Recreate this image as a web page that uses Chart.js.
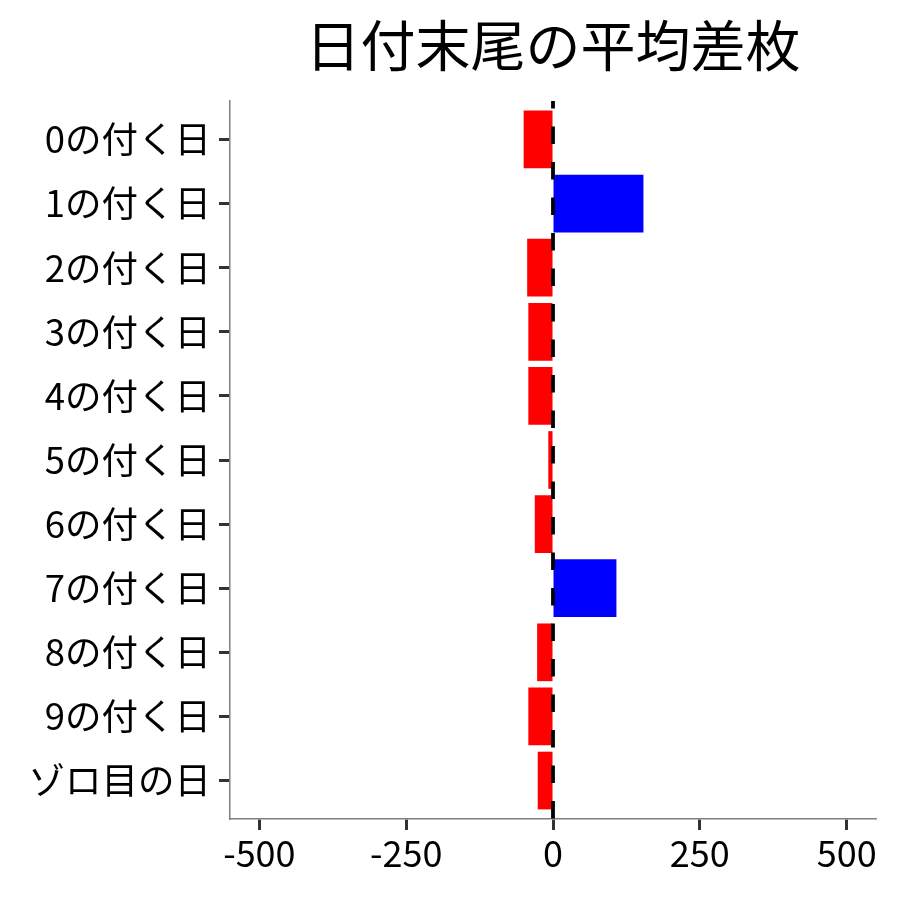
<!DOCTYPE html>
<html>
<head>
<meta charset="utf-8">
<script src="https://cdn.jsdelivr.net/npm/chart.js@4.4.0/dist/chart.umd.min.js"></script>
<style>
  html, body { margin: 0; padding: 0; background: #fff; }
  #wrap { width: 900px; height: 900px; }
</style>
</head>
<body>
<div id="wrap"><canvas id="chart"></canvas></div>
<script>
// 日付末尾ごとの平均差枚
var categories = ["0の付く日", "1の付く日", "2の付く日", "3の付く日", "4の付く日",
                  "5の付く日", "6の付く日", "7の付く日", "8の付く日", "9の付く日", "ゾロ目の日"];
var values = [-50, 154, -44, -42, -42, -8, -31, 108, -27, -42, -26];
var xTicks = [-500, -250, 0, 250, 500];
var titleText = "日付末尾の平均差枚";

Chart.defaults.font.family = '"Noto Sans CJK JP", "Noto Sans", sans-serif';
Chart.defaults.color = "#000";

// 0 の位置に破線
var zeroLine = {
    id: "zeroLine",
    afterDatasetsDraw: function (chart) {
        var ctx = chart.ctx;
        var area = chart.chartArea;
        var x = chart.scales.x.getPixelForValue(0);
        ctx.save();
        ctx.strokeStyle = "#000";
        ctx.lineWidth = 3.8;
        ctx.setLineDash([17.5, 18]);
        ctx.lineDashOffset = 10;
        ctx.beginPath();
        ctx.moveTo(x, area.top);
        ctx.lineTo(x, area.bottom);
        ctx.stroke();
        ctx.restore();
    }
};

// タイトル (パネル中央)
var panelTitle = {
    id: "panelTitle",
    afterDraw: function (chart) {
        var ctx = chart.ctx;
        var area = chart.chartArea;
        ctx.save();
        ctx.font = '55px "Noto Sans CJK JP"';
        ctx.fillStyle = "#000";
        ctx.textAlign = "center";
        ctx.textBaseline = "middle";
        ctx.fillText(titleText, (area.left + area.right) / 2, 45);
        ctx.restore();
    }
};

var ctx = document.getElementById("chart").getContext("2d");
var chart = new Chart(ctx, {
    type: "bar",
    data: {
        datasets: [{
            data: values.map(function (v, i) { return { x: v, y: i }; }),
            backgroundColor: values.map(function (v) { return v < 0 ? "#ff0000" : "#0000ff"; }),
            borderWidth: 0,
            categoryPercentage: 1,
            barPercentage: 0.9
        }]
    },
    options: {
        indexAxis: "y",
        responsive: true,
        maintainAspectRatio: false,
        animation: false,
        layout: { padding: { top: 101, right: 24, left: 0, bottom: 0 } },
        plugins: {
            legend: { display: false },
            tooltip: { enabled: false },
            title: { display: false }
        },
        scales: {
            x: {
                type: "linear",
                min: -550,
                max: 550,
                afterBuildTicks: function (scale) {
                    scale.ticks = xTicks.map(function (v) { return { value: v }; });
                },
                afterFit: function (scale) { scale.height = 81; },
                grid: { drawOnChartArea: false, drawTicks: true, tickLength: 11, tickColor: "#333", tickWidth: 3 },
                border: { display: true, color: "#808080", width: 1.5 },
                ticks: { font: { size: 36 }, padding: 2, color: "#000", maxRotation: 0 }
            },
            y: {
                type: "linear",
                reverse: true,
                offset: false,
                min: -0.6,
                max: 10.6,
                afterBuildTicks: function (scale) {
                    scale.ticks = categories.map(function (c, i) { return { value: i }; });
                },
                afterFit: function (scale) { scale.width = 230; },
                grid: { offset: false, drawOnChartArea: false, drawTicks: true, tickLength: 11, tickColor: "#333", tickWidth: 3 },
                border: { display: true, color: "#808080", width: 1.5 },
                ticks: {
                    autoSkip: false,
                    font: { size: 36.5 },
                    padding: 8,
                    color: "#000",
                    callback: function (v) { return categories[v]; }
                }
            }
        }
    },
    plugins: [zeroLine, panelTitle]
});
</script>
</body>
</html>
